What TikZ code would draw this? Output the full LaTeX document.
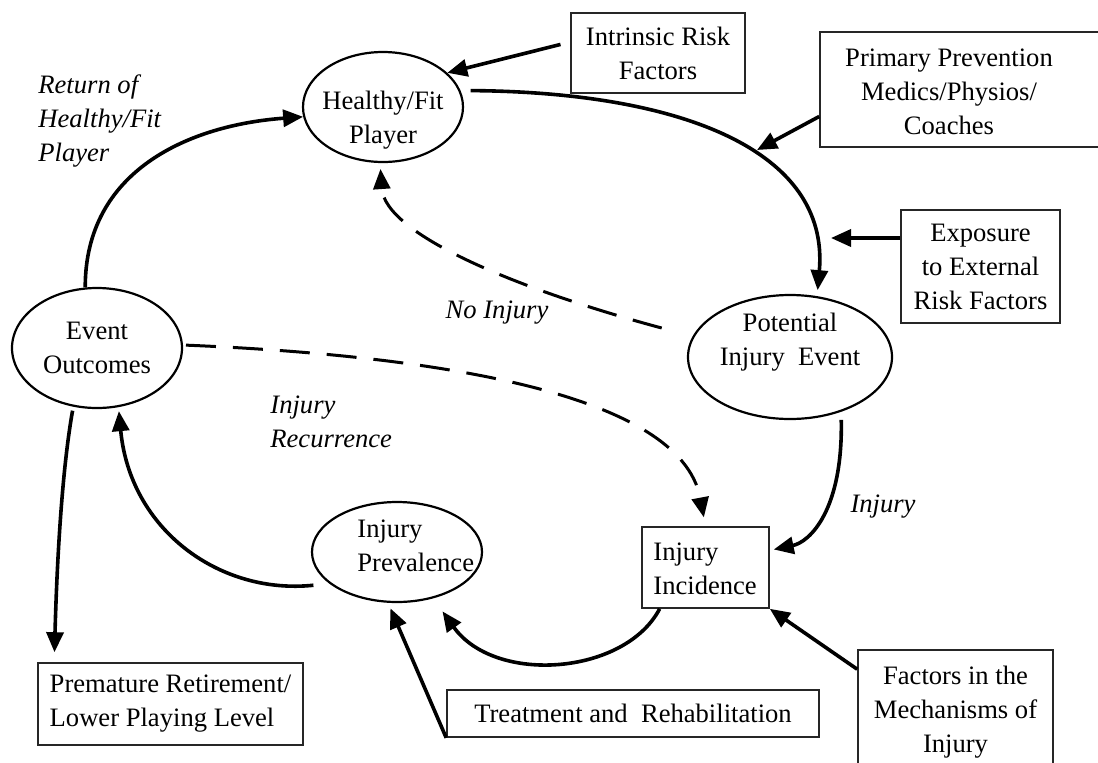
\documentclass[tikz,border=0pt]{standalone}
\usepackage{fontspec}
\setmainfont{Liberation Serif}
\usetikzlibrary{arrows.meta,shapes.geometric,calc}
\begin{document}
\begin{tikzpicture}[x=0.5pt,y=-0.5pt,
  every node/.style={font=\fontsize{13.3}{17}\selectfont, inner sep=0pt},
  oval/.style={draw, ellipse, line width=1.1pt},
  boxnode/.style={draw=black!85, rectangle, line width=0.8pt, align=center},
  txt/.style={align=center},
  note/.style={font=\fontsize{13.3}{17}\selectfont\itshape, align=left},
  arr/.style={line width=1.8pt, -{Triangle[length=10pt,width=8.5pt]}},
  darr/.style={arr, line width=1.5pt, dash pattern=on 15pt off 8.5pt}]

% canvas
\path[fill=white] (0,0) rectangle (1098,762);
\useasboundingbox (0,0) rectangle (1098,762);

% states of the cycle
\node[oval, minimum width=80pt, minimum height=55pt] (hf) at (383,107) {};
\node[txt] (hft) at (383,120) {Healthy/Fit\\Player};
\node[oval, minimum width=85pt, minimum height=60pt, align=center] (eo) at (97,348) {Event\\Outcomes};
\node[oval, minimum width=102pt, minimum height=62pt] (pie) at (790,357) {};
\node[txt] (piet) at (790,342) {Potential\\Injury\ \ Event};
\node[oval, minimum width=85pt, minimum height=50pt] (ip) at (397,552) {};
\node[anchor=west, align=left] (ipt) at (357,546) {Injury\\Prevalence};
\node[boxnode, minimum width=63.5pt, minimum height=40.5pt] (ii) at (705.5,567.5) {};
\node[anchor=west, align=left] (iit) at (653,569) {Injury\\Incidence};

% influencing factors
\node[boxnode, minimum width=87pt, minimum height=40pt] (irf) at (658,53) {Intrinsic Risk\\Factors};
\node[boxnode, minimum width=141pt, minimum height=57.5pt] (pp) at (961,89.5) {};
\node[txt] (ppt) at (949,92) {Primary Prevention\\Medics/Physios/\\Coaches};
\node[boxnode, minimum width=79.5pt, minimum height=56.5pt] (exp) at (980.5,266.5) {Exposure\\to External\\Risk Factors};
\node[boxnode, minimum width=97.5pt, minimum height=62.5pt] (fm) at (955.5,712.5) {Factors in the\\Mechanisms of\\Injury};
\node[boxnode, minimum width=186pt, minimum height=23.5pt] (tr) at (633,713.5) {Treatment and\ \ Rehabilitation};
\node[boxnode, minimum width=132.5pt, minimum height=41pt, align=left] (pr) at (170.5,704) {Premature Retirement/\\Lower Playing Level};

% path labels
\node[note, anchor=west] (lret) at (38,121) {Return of\\Healthy/Fit\\Player};
\node[note] (lno) at (497,313) {No Injury};
\node[note, anchor=west] (lrec) at (270,422) {Injury\\Recurrence};
\node[note] (linj) at (883,507) {Injury};

% free ends of the factor arrows
\coordinate (prevhit) at (757,150);
\coordinate (exphit) at (831,238);

% main cycle
\draw[arr] (eo.101) .. controls (85,170) and (190,125) .. (hf.187);
\draw[arr, shorten <=5pt, shorten >=3pt] (hf.12) .. controls (680,92) and (830,150) .. (pie.66);
\draw[darr, shorten <=16pt, shorten >=3pt] (pie.168) .. controls (520,290) and (385,235) .. (hf.267);
\draw[arr, shorten <=4pt, shorten >=2pt] (pie.313) .. controls (843,510) and (810,542) .. (ii.15);
\draw[darr, shorten <=1.5pt, shorten >=4.5pt] (eo.2) .. controls (420,355) and (680,390) .. (ii.north);
\draw[arr, shorten >=8pt] (ii.222) .. controls (625,675) and (495,685) .. (ip.308);
\draw[arr, shorten <=8pt, shorten >=2pt] (ip.205) .. controls (220,595) and (130,530) .. (eo.290);
\draw[arr, shorten <=2pt, shorten >=5pt] (eo.248) .. controls (62,470) and (57,560) .. ($(pr.north west)+(17,0)$);

% factor arrows
\draw[arr, shorten <=5pt] ($(irf.west)+(0,-11)$) -- (hf.28);
\draw[arr] ($(pp.west)+(0,27)$) -- (prevhit);
\draw[arr] ($(exp.west)+(0,-28.5)$) -- (exphit);
\draw[arr] ($(fm.north west)+(0,20)$) -- (ii.south east);
\draw[arr, shorten >=3pt] (tr.south west) -- (ip.260);
\end{tikzpicture}
\end{document}
